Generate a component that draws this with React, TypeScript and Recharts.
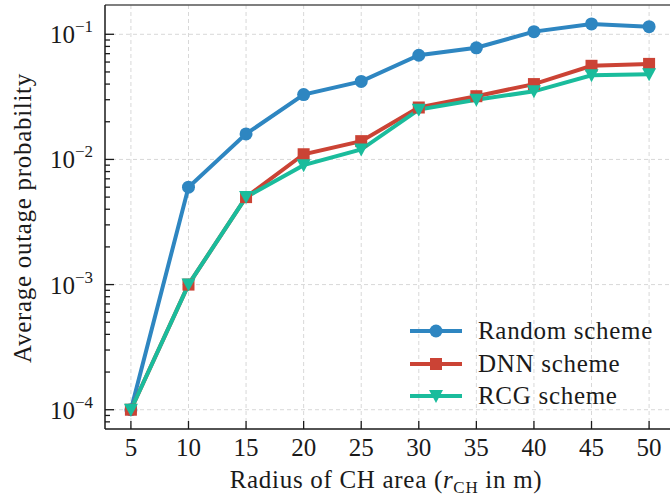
import React from 'react';
import { LineChart, Line, XAxis, YAxis, CartesianGrid, ReferenceLine } from 'recharts';

// radius of the cluster-head area (m)
const radius = [5, 10, 15, 20, 25, 30, 35, 40, 45, 50];

// average outage probability per scheme
const randomScheme = [1e-4, 0.006, 0.016, 0.033, 0.042, 0.068, 0.078, 0.105, 0.121, 0.115];
const dnnScheme = [1e-4, 1e-3, 0.005, 0.011, 0.014, 0.026, 0.032, 0.04, 0.056, 0.058];
const rcgScheme = [1e-4, 1e-3, 0.005, 0.009, 0.012, 0.025, 0.03, 0.035, 0.047, 0.048];

const xTicks = [5, 10, 15, 20, 25, 30, 35, 40, 45, 50];
const majorY = [1e-4, 1e-3, 1e-2, 1e-1];
const exponents = [-4, -3, -2, -1];

const data = radius.map((r, i) => ({
  r,
  random: randomScheme[i],
  dnn: dnnScheme[i],
  rcg: rcgScheme[i],
}));

const X_DOMAIN: [number, number] = [2.75, 52.25];
const Y_DOMAIN: [number, number] = [Math.pow(10, -4.154), Math.pow(10, -0.766)];

// major + minor ticks (2..9 x decade) that fall inside the domain
const yTicks: number[] = [];
for (let e = -5; e <= -1; e++) {
  for (let m = 1; m <= 9; m++) {
    const v = m * Math.pow(10, e);
    if (v >= Y_DOMAIN[0] && v <= Y_DOMAIN[1]) yTicks.push(Number(v.toPrecision(3)));
  }
}

const BLUE = '#2E86C1';
const RED = '#CB4335';
const GREEN = '#1ABC9C';
const INK = '#1a1a1a';
const FONT = '"Liberation Serif", "Tinos", "Times New Roman"';
const FS = 25;
const SUB = 17;
const SPACING = 0.7;

const TICK_MARGIN = 12;

const YTick = (props: any) => {
  const { x, y, payload } = props;
  const axisX = x + TICK_MARGIN;
  const v = payload.value;
  const idx = majorY.findIndex((m) => Math.abs(m - v) / m < 1e-6);
  const major = idx >= 0;
  return (
    <g>
      <line x1={axisX} x2={axisX + (major ? 9 : 5)} y1={y} y2={y} stroke={INK} strokeWidth={1.3} />
      {major && (
        <text x={x} y={y + 9} textAnchor="end" fontFamily={FONT} fontSize={FS} fill={INK}>
          <tspan>10</tspan>
          <tspan dy={-11} fontSize={SUB}>{'\u2212' + Math.abs(exponents[idx])}</tspan>
        </text>
      )}
    </g>
  );
};

const XTick = (props: any) => {
  const { x, y, payload } = props;
  const axisY = y - TICK_MARGIN;
  return (
    <g>
      <line x1={x} x2={x} y1={axisY} y2={axisY - 8} stroke={INK} strokeWidth={1.3} />
      <text x={x} y={y + 15} textAnchor="middle" fontFamily={FONT} fontSize={FS} fill={INK}>
        {payload.value}
      </text>
    </g>
  );
};

const CircleDot = (props: any) => {
  const { cx, cy } = props;
  if (cx == null || cy == null) return null;
  return <circle cx={cx} cy={cy} r={6.5} fill={BLUE} />;
};

const SquareDot = (props: any) => {
  const { cx, cy } = props;
  if (cx == null || cy == null) return null;
  return <rect x={cx - 6} y={cy - 6} width={12} height={12} fill={RED} />;
};

const TriangleDot = (props: any) => {
  const { cx, cy } = props;
  if (cx == null || cy == null) return null;
  return <path d={`M${cx - 7},${cy - 6} L${cx + 7},${cy - 6} L${cx},${cy + 7} Z`} fill={GREEN} />;
};

const XLabel = (props: any) => {
  const vb = props.viewBox;
  return (
    <text
      x={vb.x + vb.width / 2 - 4}
      y={vb.y + 59}
      textAnchor="middle"
      fontFamily={FONT}
      fontSize={FS}
      letterSpacing={SPACING}
      fill={INK}
    >
      <tspan>Radius of CH area (</tspan>
      <tspan fontStyle="italic">r</tspan>
      <tspan fontSize={SUB} dy={5}>CH</tspan>
      <tspan dy={-5}> in m)</tspan>
    </text>
  );
};

const YLabel = () => (
  <text
    x={22}
    y={218}
    transform="rotate(-90 22 218)"
    textAnchor="middle"
    dominantBaseline="central"
    fontFamily={FONT}
    fontSize={FS}
    letterSpacing={SPACING}
    fill={INK}
  >
    Average outage probability
  </text>
);

const legendItems = [
  { name: 'Random scheme', color: BLUE, marker: 'circle' },
  { name: 'DNN scheme', color: RED, marker: 'square' },
  { name: 'RCG scheme', color: GREEN, marker: 'triangle' },
];

const LegendBox = () => (
  <div
    style={{
      position: 'absolute',
      left: 408,
      top: 315,
      fontFamily: FONT,
      fontSize: FS,
      letterSpacing: SPACING,
      color: INK,
    }}
  >
    {legendItems.map((it) => (
      <div key={it.name} style={{ display: 'flex', alignItems: 'center', height: 32.5 }}>
        <svg width={56} height={20} style={{ marginRight: 14 }}>
          <line x1={2} x2={54} y1={10} y2={10} stroke={it.color} strokeWidth={4} />
          {it.marker === 'circle' && <circle cx={28} cy={10} r={6.5} fill={it.color} />}
          {it.marker === 'square' && <rect x={22} y={4} width={12} height={12} fill={it.color} />}
          {it.marker === 'triangle' && <path d="M21,4 L35,4 L28,17 Z" fill={it.color} />}
        </svg>
        <span style={{ whiteSpace: 'nowrap' }}>{it.name}</span>
      </div>
    ))}
  </div>
);

export default function App() {
  return (
    <div style={{ position: 'absolute', left: 0, top: 0, width: 670, height: 500, overflow: 'hidden', background: '#fff' }}>
      <LineChart width={677} height={500} data={data} margin={{ top: 5, right: 2, bottom: 0, left: 0 }}>
        <CartesianGrid
          stroke="#d8d8d8"
          strokeDasharray="4 3"
          verticalValues={xTicks}
          horizontalValues={majorY}
        />
        <XAxis
          dataKey="r"
          type="number"
          domain={X_DOMAIN}
          ticks={xTicks}
          allowDataOverflow
          height={71}
          tickLine={false}
          tickSize={0}
          tickMargin={TICK_MARGIN}
          tick={<XTick />}
          axisLine={{ stroke: INK, strokeWidth: 1.5 }}
          label={{ content: (p: any) => <XLabel {...p} /> }}
          interval={0}
        />
        <YAxis
          type="number"
          scale="log"
          domain={Y_DOMAIN}
          ticks={yTicks}
          allowDataOverflow
          width={105}
          tickLine={false}
          tickSize={0}
          tickMargin={TICK_MARGIN}
          tick={<YTick />}
          axisLine={{ stroke: INK, strokeWidth: 1.5 }}
          interval={0}
        />
        <ReferenceLine y={Y_DOMAIN[1]} stroke="#555" strokeWidth={1.5} ifOverflow="visible" />
        <Line dataKey="random" stroke={BLUE} strokeWidth={4} dot={<CircleDot />} activeDot={false} isAnimationActive={false} />
        <Line dataKey="dnn" stroke={RED} strokeWidth={4} dot={<SquareDot />} activeDot={false} isAnimationActive={false} />
        <Line dataKey="rcg" stroke={GREEN} strokeWidth={4} dot={<TriangleDot />} activeDot={false} isAnimationActive={false} />
        <YLabel />
      </LineChart>
      <LegendBox />
    </div>
  );
}
